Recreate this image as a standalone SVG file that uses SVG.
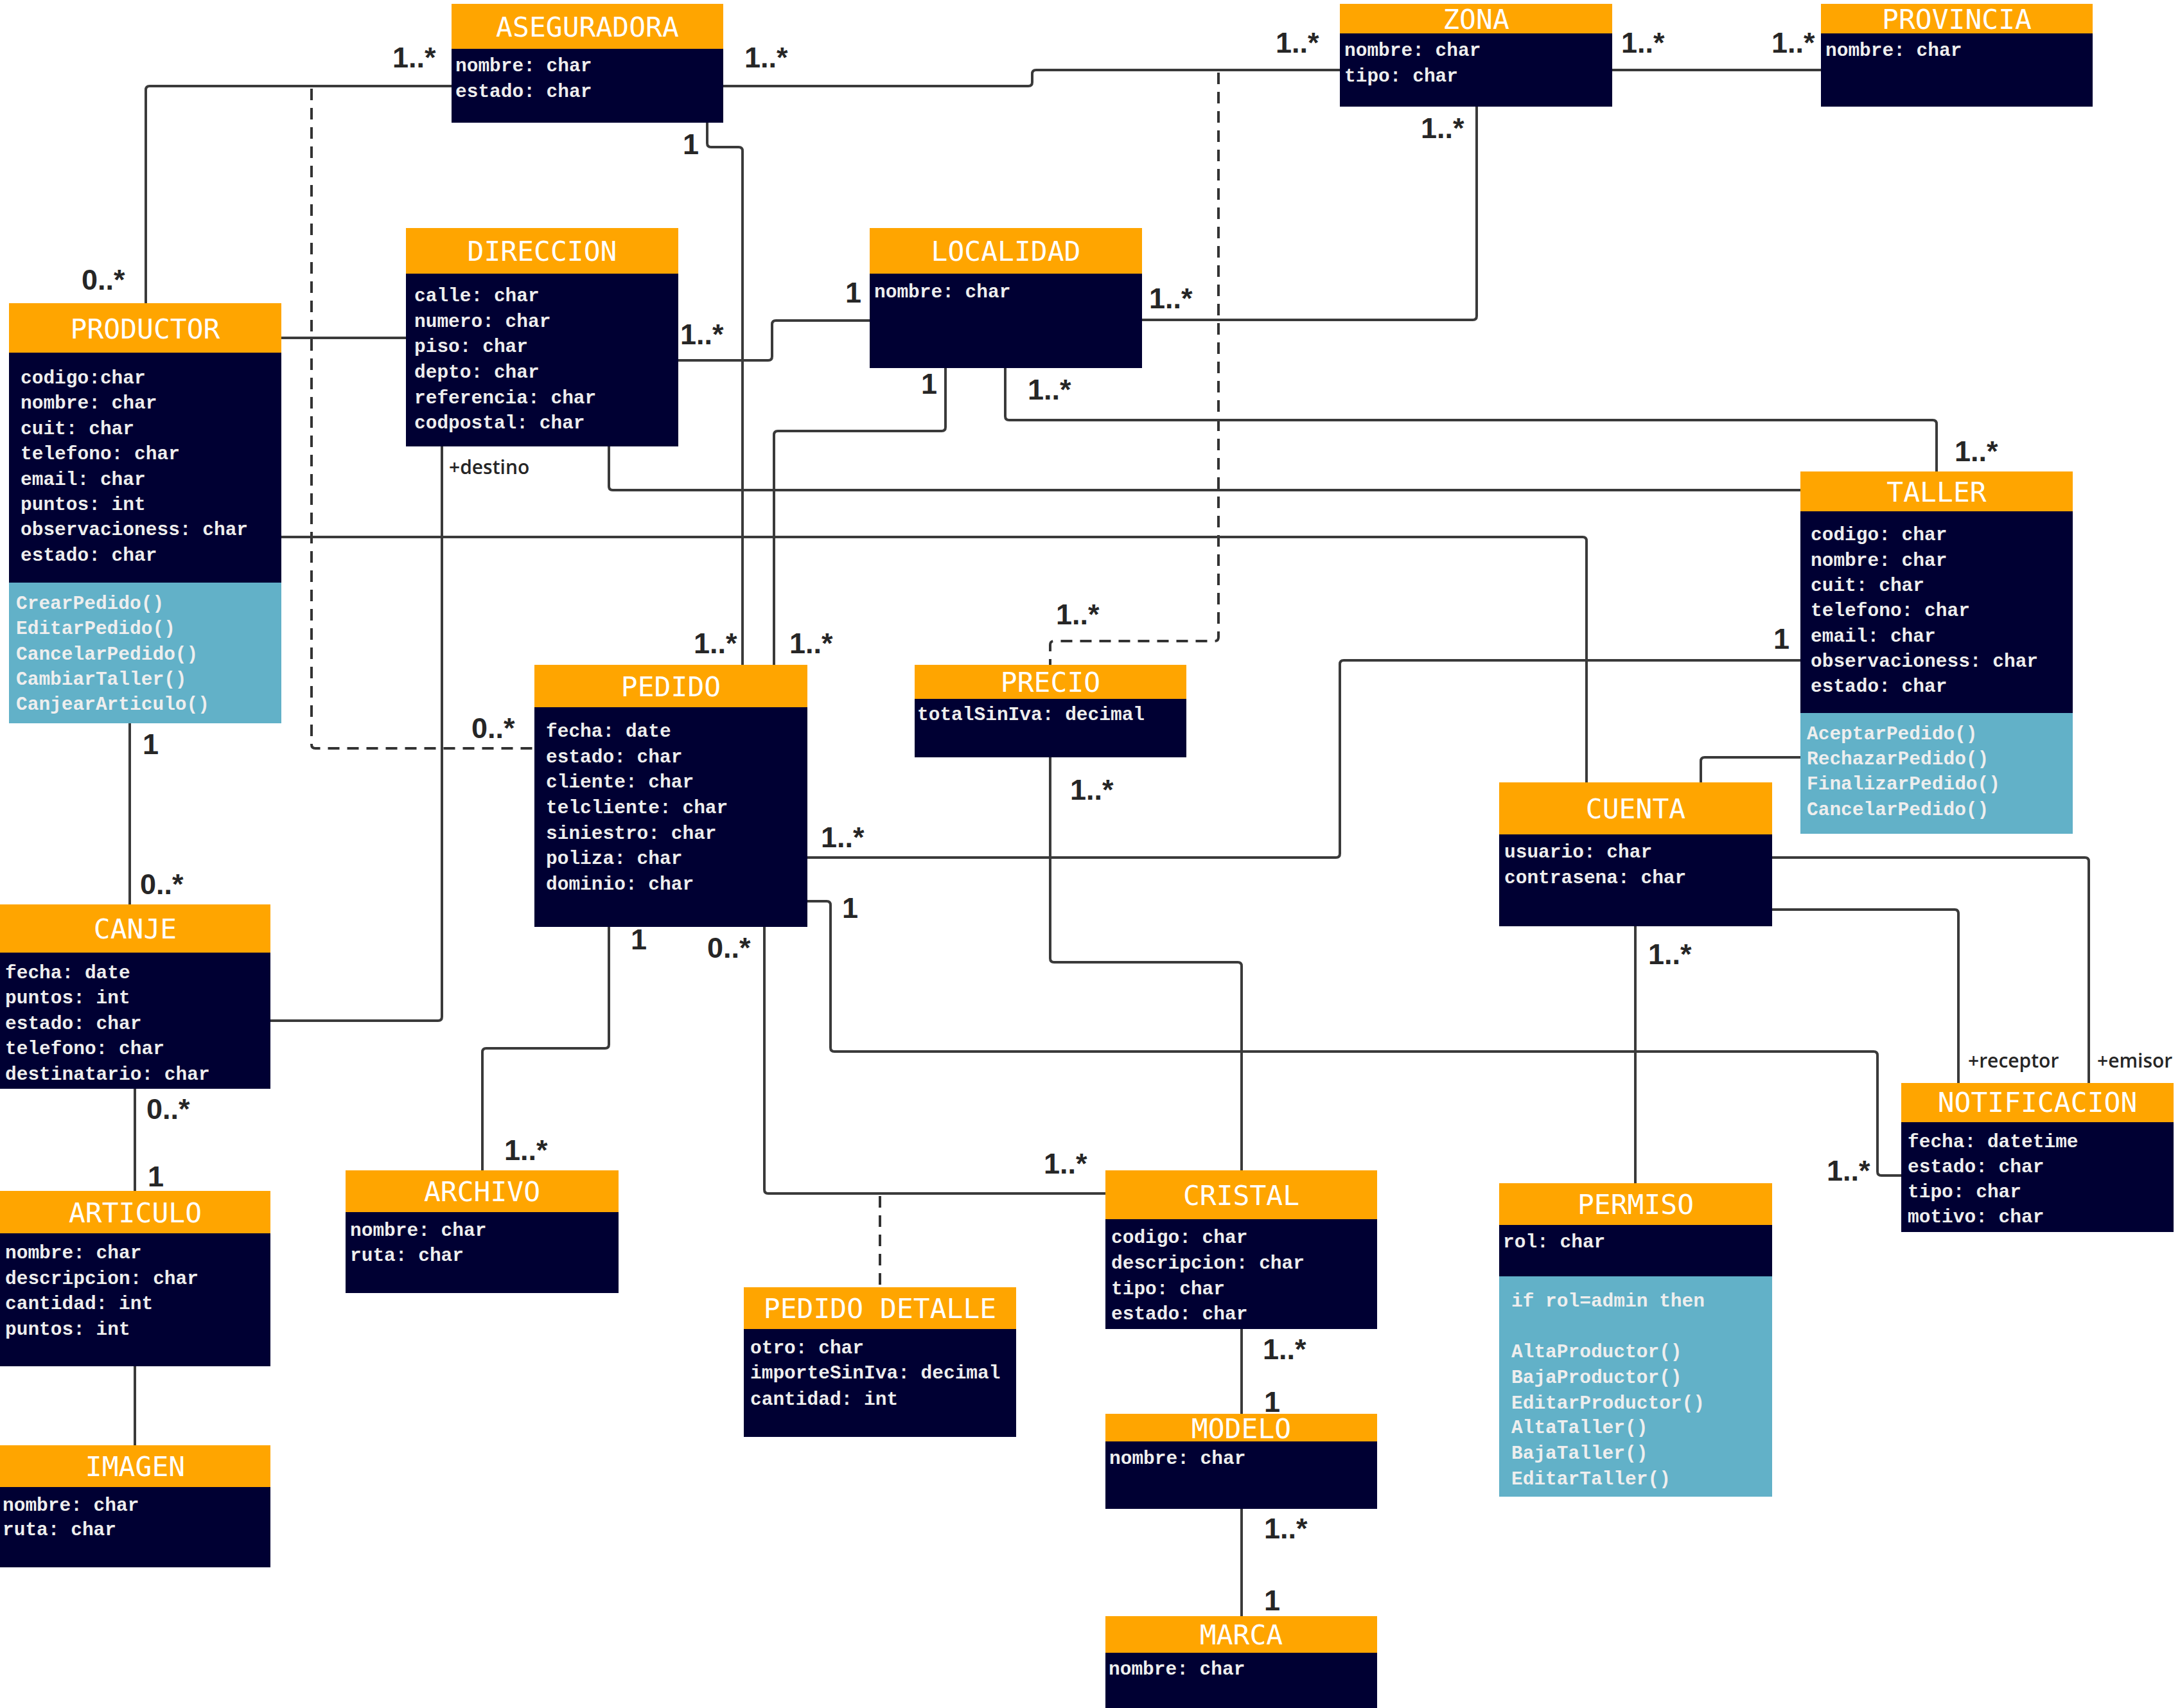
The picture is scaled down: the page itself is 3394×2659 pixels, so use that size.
<svg xmlns="http://www.w3.org/2000/svg" width="3394" height="2659" viewBox="0 0 3394 2659">
<style>
.hd{fill:#FFA500}
.bd{fill:#000033}
.me{fill:#62B1C8}
.t{font-family:"DejaVu Sans Mono",monospace;font-size:43px;fill:#FFFFFF;text-anchor:middle}
.a{font-family:"Liberation Mono","Courier New",monospace;font-size:29.5px;font-weight:bold;fill:#EEEEEE}
.m{font-family:"Liberation Sans",Arial,sans-serif;font-size:45px;font-weight:bold;fill:#262626}
.r{font-family:"Open Sans","Noto Sans",sans-serif;font-size:30px;font-weight:600;fill:#262626}
.ln{fill:none;stroke:#3a3a3a;stroke-width:4}
.ds{fill:none;stroke:#333333;stroke-width:4;stroke-dasharray:18 12}
</style>
<rect width="3394" height="2659" fill="#FFFFFF"/>

<g id="connectors">
<path class="ln" d="M703,134 H233 Q227,134 227,140 V472"/>
<path class="ln" d="M1126,134 H1601 Q1607,134 1607,128 V115 Q1607,109 1613,109 H2086"/>
<path class="ln" d="M2510,109 H2835"/>
<path class="ln" d="M2299,166 V492 Q2299,498 2293,498 H1778"/>
<path class="ln" d="M1056,561 H1196 Q1202,561 1202,555 V505 Q1202,499 1208,499 H1354"/>
<path class="ln" d="M438,526 H632"/>
<path class="ds" d="M485,138 V1159 Q485,1165 491,1165 H832"/>
<path class="ds" d="M1897,113 V992 Q1897,998 1891,998 H1641 Q1635,998 1635,1004 V1035"/>
<path class="ln" d="M1101,191 V223 Q1101,229 1107,229 H1150 Q1156,229 1156,235 V1035"/>
<path class="ln" d="M1472,573 V665 Q1472,671 1466,671 H1211 Q1205,671 1205,677 V1035"/>
<path class="ln" d="M1565,573 V648 Q1565,654 1571,654 H3009 Q3015,654 3015,660 V734"/>
<path class="ln" d="M948,695 V757 Q948,763 954,763 H2803"/>
<path class="ln" d="M438,836 H2464 Q2470,836 2470,842 V1218"/>
<path class="ln" d="M688,695 V1583 Q688,1589 682,1589 H421"/>
<path class="ln" d="M202,1126 V1408"/>
<path class="ln" d="M210,1695 V1854"/>
<path class="ln" d="M210,2127 V2250"/>
<path class="ln" d="M948,1443 V1626 Q948,1632 942,1632 H757 Q751,1632 751,1638 V1822"/>
<path class="ln" d="M1190,1443 V1852 Q1190,1858 1196,1858 H1721"/>
<path class="ds" d="M1370,1862 V2004"/>
<path class="ln" d="M1257,1335 H2080 Q2086,1335 2086,1329 V1034 Q2086,1028 2092,1028 H2803"/>
<path class="ln" d="M1257,1403 H1287 Q1293,1403 1293,1409 V1631 Q1293,1637 1299,1637 H2917 Q2923,1637 2923,1643 V1824 Q2923,1830 2929,1830 H2960"/>
<path class="ln" d="M1635,1179 V1492 Q1635,1498 1641,1498 H1927 Q1933,1498 1933,1504 V1822"/>
<path class="ln" d="M2648,1218 V1185 Q2648,1179 2654,1179 H2803"/>
<path class="ln" d="M2546,1442 V1842"/>
<path class="ln" d="M2759,1416 H3043 Q3049,1416 3049,1422 V1686"/>
<path class="ln" d="M2759,1335 H3246 Q3252,1335 3252,1341 V1686"/>
<path class="ln" d="M1933,2069 V2201"/>
<path class="ln" d="M1933,2349 V2516"/>

<text class="m" x="611" y="105">1..*</text>
<text class="m" x="127" y="451">0..*</text>
<text class="m" x="1159" y="105">1..*</text>
<text class="m" x="1986" y="82">1..*</text>
<text class="m" x="2524" y="82">1..*</text>
<text class="m" x="2758" y="82">1..*</text>
<text class="m" x="2212" y="215">1..*</text>
<text class="m" x="1789" y="480">1..*</text>
<text class="m" x="1059" y="536">1..*</text>
<text class="m" x="1316" y="471">1</text>
<text class="m" x="734" y="1149">0..*</text>
<text class="m" x="1644" y="972">1..*</text>
<text class="m" x="1063" y="240">1</text>
<text class="m" x="1080" y="1017">1..*</text>
<text class="m" x="1434" y="613">1</text>
<text class="m" x="1229" y="1017">1..*</text>
<text class="m" x="1600" y="622">1..*</text>
<text class="m" x="3043" y="718">1..*</text>
<text class="m" x="222" y="1174">1</text>
<text class="m" x="218" y="1392">0..*</text>
<text class="m" x="228" y="1742">0..*</text>
<text class="m" x="230" y="1847">1</text>
<text class="m" x="982" y="1478">1</text>
<text class="m" x="785" y="1806">1..*</text>
<text class="m" x="1101" y="1491">0..*</text>
<text class="m" x="1625" y="1827">1..*</text>
<text class="m" x="1278" y="1319">1..*</text>
<text class="m" x="2761" y="1010">1</text>
<text class="m" x="1311" y="1429">1</text>
<text class="m" x="2844" y="1838">1..*</text>
<text class="m" x="1666" y="1245">1..*</text>
<text class="m" x="2566" y="1501">1..*</text>
<text class="m" x="1966" y="2116">1..*</text>
<text class="m" x="1968" y="2198">1</text>
<text class="m" x="1968" y="2395">1..*</text>
<text class="m" x="1968" y="2507">1</text>
<text class="r" x="699" y="738">+destino</text>
<text class="r" x="3064" y="1662">+receptor</text>
<text class="r" x="3265" y="1662">+emisor</text>
</g>

<g id="aseguradora">
<rect class="hd" x="703" y="6" width="423" height="70"/>
<rect class="bd" x="703" y="76" width="423" height="115"/>
<text class="t" x="914.5" y="57">ASEGURADORA</text>
<text class="a" x="709" y="111">nombre: char</text>
<text class="a" x="709" y="151">estado: char</text>
</g>

<g id="zona">
<rect class="hd" x="2086" y="6" width="424" height="46"/>
<rect class="bd" x="2086" y="52" width="424" height="114"/>
<text class="t" x="2298" y="45">ZONA</text>
<text class="a" x="2093" y="87">nombre: char</text>
<text class="a" x="2093" y="127">tipo: char</text>
</g>

<g id="provincia">
<rect class="hd" x="2835" y="6" width="423" height="46"/>
<rect class="bd" x="2835" y="52" width="423" height="114"/>
<text class="t" x="3046.5" y="45">PROVINCIA</text>
<text class="a" x="2842" y="87">nombre: char</text>
</g>

<g id="productor">
<rect class="hd" x="14" y="472" width="424" height="77"/>
<rect class="bd" x="14" y="549" width="424" height="358"/>
<rect class="me" x="14" y="907" width="424" height="219"/>
<text class="t" x="226" y="527">PRODUCTOR</text>
<text class="a" x="32" y="597">codigo:char</text>
<text class="a" x="32" y="636">nombre: char</text>
<text class="a" x="32" y="676">cuit: char</text>
<text class="a" x="32" y="715">telefono: char</text>
<text class="a" x="32" y="755">email: char</text>
<text class="a" x="32" y="794">puntos: int</text>
<text class="a" x="32" y="833">observacioness: char</text>
<text class="a" x="32" y="873">estado: char</text>
<text class="a" x="25" y="948">CrearPedido()</text>
<text class="a" x="25" y="987">EditarPedido()</text>
<text class="a" x="25" y="1027">CancelarPedido()</text>
<text class="a" x="25" y="1066">CambiarTaller()</text>
<text class="a" x="25" y="1105">CanjearArticulo()</text>
</g>

<g id="direccion">
<rect class="hd" x="632" y="355" width="424" height="71"/>
<rect class="bd" x="632" y="426" width="424" height="269"/>
<text class="t" x="844" y="406">DIRECCION</text>
<text class="a" x="645" y="469">calle: char</text>
<text class="a" x="645" y="509">numero: char</text>
<text class="a" x="645" y="548">piso: char</text>
<text class="a" x="645" y="588">depto: char</text>
<text class="a" x="645" y="628">referencia: char</text>
<text class="a" x="645" y="667">codpostal: char</text>
</g>

<g id="localidad">
<rect class="hd" x="1354" y="355" width="424" height="71"/>
<rect class="bd" x="1354" y="426" width="424" height="147"/>
<text class="t" x="1566" y="406">LOCALIDAD</text>
<text class="a" x="1361" y="463">nombre: char</text>
</g>

<g id="taller">
<rect class="hd" x="2803" y="734" width="424" height="62"/>
<rect class="bd" x="2803" y="796" width="424" height="314"/>
<rect class="me" x="2803" y="1110" width="424" height="188"/>
<text class="t" x="3015" y="781">TALLER</text>
<text class="a" x="2819" y="841">codigo: char</text>
<text class="a" x="2819" y="881">nombre: char</text>
<text class="a" x="2819" y="920">cuit: char</text>
<text class="a" x="2819" y="959">telefono: char</text>
<text class="a" x="2819" y="999">email: char</text>
<text class="a" x="2819" y="1038">observacioness: char</text>
<text class="a" x="2819" y="1077">estado: char</text>
<text class="a" x="2813" y="1151">AceptarPedido()</text>
<text class="a" x="2813" y="1190">RechazarPedido()</text>
<text class="a" x="2813" y="1229">FinalizarPedido()</text>
<text class="a" x="2813" y="1269">CancelarPedido()</text>
</g>

<g id="pedido">
<rect class="hd" x="832" y="1035" width="425" height="66"/>
<rect class="bd" x="832" y="1101" width="425" height="342"/>
<text class="t" x="1044.5" y="1084">PEDIDO</text>
<text class="a" x="850" y="1147">fecha: date</text>
<text class="a" x="850" y="1187">estado: char</text>
<text class="a" x="850" y="1226">cliente: char</text>
<text class="a" x="850" y="1266">telcliente: char</text>
<text class="a" x="850" y="1306">siniestro: char</text>
<text class="a" x="850" y="1345">poliza: char</text>
<text class="a" x="850" y="1385">dominio: char</text>
</g>

<g id="precio">
<rect class="hd" x="1424" y="1035" width="423" height="53"/>
<rect class="bd" x="1424" y="1088" width="423" height="91"/>
<text class="t" x="1635.5" y="1077">PRECIO</text>
<text class="a" x="1428" y="1121">totalSinIva: decimal</text>
</g>

<g id="cuenta">
<rect class="hd" x="2334" y="1218" width="425" height="81"/>
<rect class="bd" x="2334" y="1299" width="425" height="143"/>
<text class="t" x="2546.5" y="1274">CUENTA</text>
<text class="a" x="2342" y="1335">usuario: char</text>
<text class="a" x="2342" y="1375">contrasena: char</text>
</g>

<g id="notificacion">
<rect class="hd" x="2960" y="1686" width="424" height="61"/>
<rect class="bd" x="2960" y="1747" width="424" height="171"/>
<text class="t" x="3172" y="1731">NOTIFICACION</text>
<text class="a" x="2970" y="1786">fecha: datetime</text>
<text class="a" x="2970" y="1825">estado: char</text>
<text class="a" x="2970" y="1864">tipo: char</text>
<text class="a" x="2970" y="1903">motivo: char</text>
</g>

<g id="canje">
<rect class="hd" x="0" y="1408" width="421" height="75"/>
<rect class="bd" x="0" y="1483" width="421" height="212"/>
<text class="t" x="210.5" y="1461">CANJE</text>
<text class="a" x="8" y="1523">fecha: date</text>
<text class="a" x="8" y="1562">puntos: int</text>
<text class="a" x="8" y="1602">estado: char</text>
<text class="a" x="8" y="1641">telefono: char</text>
<text class="a" x="8" y="1681">destinatario: char</text>
</g>

<g id="articulo">
<rect class="hd" x="0" y="1854" width="421" height="66"/>
<rect class="bd" x="0" y="1920" width="421" height="207"/>
<text class="t" x="210.5" y="1903">ARTICULO</text>
<text class="a" x="8" y="1959">nombre: char</text>
<text class="a" x="8" y="1999">descripcion: char</text>
<text class="a" x="8" y="2038">cantidad: int</text>
<text class="a" x="8" y="2078">puntos: int</text>
</g>

<g id="imagen">
<rect class="hd" x="0" y="2250" width="421" height="65"/>
<rect class="bd" x="0" y="2315" width="421" height="125"/>
<text class="t" x="210.5" y="2298">IMAGEN</text>
<text class="a" x="4" y="2352">nombre: char</text>
<text class="a" x="4" y="2390">ruta: char</text>
</g>

<g id="archivo">
<rect class="hd" x="538" y="1822" width="425" height="65"/>
<rect class="bd" x="538" y="1887" width="425" height="126"/>
<text class="t" x="750.5" y="1870">ARCHIVO</text>
<text class="a" x="545" y="1924">nombre: char</text>
<text class="a" x="545" y="1963">ruta: char</text>
</g>

<g id="pedido-detalle">
<rect class="hd" x="1158" y="2004" width="424" height="65"/>
<rect class="bd" x="1158" y="2069" width="424" height="168"/>
<text class="t" x="1370" y="2052">PEDIDO DETALLE</text>
<text class="a" x="1168" y="2107">otro: char</text>
<text class="a" x="1168" y="2146">importeSinIva: decimal</text>
<text class="a" x="1168" y="2187">cantidad: int</text>
</g>

<g id="cristal">
<rect class="hd" x="1721" y="1822" width="423" height="76"/>
<rect class="bd" x="1721" y="1898" width="423" height="171"/>
<text class="t" x="1932.5" y="1876">CRISTAL</text>
<text class="a" x="1730" y="1935">codigo: char</text>
<text class="a" x="1730" y="1975">descripcion: char</text>
<text class="a" x="1730" y="2015">tipo: char</text>
<text class="a" x="1730" y="2054">estado: char</text>
</g>

<g id="modelo">
<rect class="hd" x="1721" y="2201" width="423" height="43"/>
<rect class="bd" x="1721" y="2244" width="423" height="105"/>
<text class="t" x="1932.5" y="2239">MODELO</text>
<text class="a" x="1727" y="2279">nombre: char</text>
</g>

<g id="marca">
<rect class="hd" x="1721" y="2516" width="423" height="57"/>
<rect class="bd" x="1721" y="2573" width="423" height="86"/>
<text class="t" x="1932.5" y="2560">MARCA</text>
<text class="a" x="1726" y="2607">nombre: char</text>
</g>

<g id="permiso">
<rect class="hd" x="2334" y="1842" width="425" height="65"/>
<rect class="bd" x="2334" y="1907" width="425" height="80"/>
<rect class="me" x="2334" y="1987" width="425" height="343"/>
<text class="t" x="2546.5" y="1890">PERMISO</text>
<text class="a" x="2340" y="1942">rol: char</text>
<text class="a" x="2353" y="2034">if rol=admin then</text>
<text class="a" x="2353" y="2113">AltaProductor()</text>
<text class="a" x="2353" y="2153">BajaProductor()</text>
<text class="a" x="2353" y="2193">EditarProductor()</text>
<text class="a" x="2353" y="2231">AltaTaller()</text>
<text class="a" x="2353" y="2271">BajaTaller()</text>
<text class="a" x="2353" y="2311">EditarTaller()</text>
</g>
</svg>
